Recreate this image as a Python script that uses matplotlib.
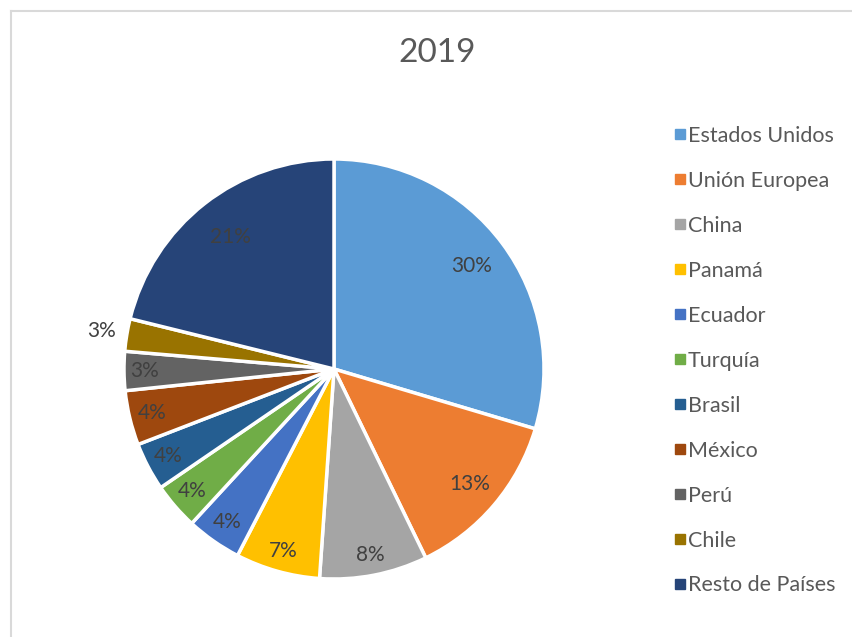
import numpy as np
import matplotlib
matplotlib.use("Agg")
import matplotlib.pyplot as plt
from matplotlib.lines import Line2D

plt.rcParams['font.family'] = ['Lato', 'DejaVu Sans']

title = "2019"
categories = ["Estados Unidos", "Unión Europea", "China", "Panamá", "Ecuador",
              "Turquía", "Brasil", "México", "Perú", "Chile", "Resto de Países"]
values = [29.6, 13.2, 8.3, 6.5, 4.25, 3.6, 3.7, 4.2, 3.0, 2.5, 21.15]
labels = ["30%", "13%", "8%", "7%", "4%", "4%", "4%", "4%", "3%", "3%", "21%"]
colors = ["#5B9BD5", "#ED7D31", "#A5A5A5", "#FFC000", "#4472C4", "#70AD47",
          "#255E91", "#9E480E", "#636363", "#997300", "#264478"]
label_dist = [0.82, 0.85, 0.90, 0.90, 0.89, 0.89, 0.89, 0.89, 0.90, 1.12, 0.80]

W, H = 852, 637
fig = plt.figure(figsize=(W / 100, H / 100), dpi=100)

# chart-area border (partial, as in reference)
fig.add_artist(Line2D([11 / W, 11 / W], [0, 1 - 11 / H], transform=fig.transFigure,
                      color="#D9D9D9", lw=1.5))
fig.add_artist(Line2D([11 / W, 1], [1 - 11 / H, 1 - 11 / H], transform=fig.transFigure,
                      color="#D9D9D9", lw=1.5))

cx, cy, r = 334, 369, 210
ax = fig.add_axes([(cx - r) / W, (H - cy - r) / H, 2 * r / W, 2 * r / H])
wedges, _ = ax.pie(values, colors=colors, startangle=90, counterclock=False,
                   radius=1.0, wedgeprops=dict(edgecolor="white", linewidth=2.5))
ax.set_xlim(-1, 1)
ax.set_ylim(-1, 1)
ax.axis("off")

for w, lab, d in zip(wedges, labels, label_dist):
    ang = np.deg2rad((w.theta1 + w.theta2) / 2)
    ax.text(d * np.cos(ang), d * np.sin(ang), lab, ha="center", va="center",
            fontsize=15, color="#404040", clip_on=False)

fig.text(437 / W, 1 - 53 / H, title, ha="center", va="center", fontsize=24, color="#595959")

handles = [Line2D([], [], marker="s", linestyle="none", markersize=7,
                  markerfacecolor=c, markeredgecolor=c) for c in colors]
leg = fig.legend(handles, categories, loc="upper left",
                 bbox_to_anchor=(664.5 / W, 1 - 115 / H), frameon=False,
                 fontsize=15.5, labelcolor="#595959", handlelength=0.45,
                 handletextpad=0.12, labelspacing=1.16, borderpad=0)

fig.savefig("out.png", dpi=100, facecolor="white")
